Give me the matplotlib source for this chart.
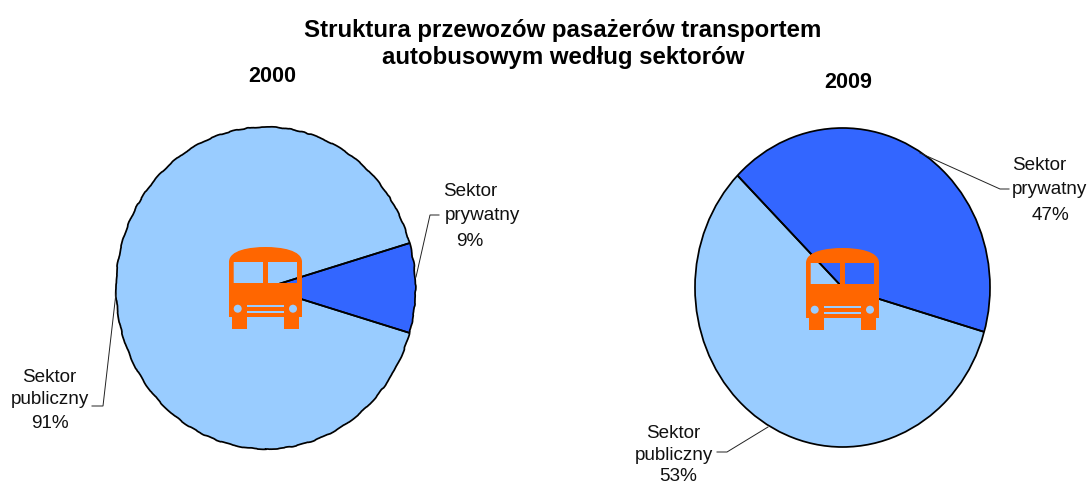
import matplotlib
matplotlib.use("Agg")
import matplotlib.pyplot as plt
import numpy as np
from matplotlib.path import Path
from matplotlib.patches import PathPatch, Circle

plt.rcParams['font.family'] = ['Liberation Sans', 'DejaVu Sans']

W, H = 1089, 483
title_lines = ["Struktura przewozów pasażerów transportem", "autobusowym według sektorów"]
years = ["2000", "2009"]
sectors = ["Sektor publiczny", "Sektor prywatny"]
# wedge sizes as drawn in the picture
drawn_2000 = [91, 9]
drawn_2009 = [57.9, 42.1]
# percentages as printed on the labels
printed_2000 = ["91%", "9%"]
printed_2009 = ["53%", "47%"]
colors = ["#99CCFF", "#3366FF"]
ORANGE = "#FF6600"

fig = plt.figure(figsize=(W / 100, H / 100), dpi=100, facecolor="white")


def pie_axes(x0, x1, y0, y1):
    return fig.add_axes([x0 / W, 1 - y1 / H, (x1 - x0) / W, (y1 - y0) / H])


def outline(ax, wedges, sketch=None):
    # radial edges stay straight, only the rim may be rough
    for w in wedges:
        w.set_edgecolor("none")
        w.set_clip_on(False)
        for th in (w.theta1, w.theta2):
            ax.plot([0, np.cos(np.radians(th))], [0, np.sin(np.radians(th))],
                    color="black", lw=1.25, solid_capstyle="butt", clip_on=False)
    rim = Circle((0, 0), 1, fill=False, ec="black", lw=1.25, clip_on=False)
    if sketch:
        rim.set_sketch_params(*sketch)
    ax.add_patch(rim)


ax1 = pie_axes(116, 415.5, 127, 449)
w1, _ = ax1.pie(drawn_2000, colors=colors, startangle=16.2, counterclock=True, radius=1)
outline(ax1, w1, sketch=(0.4, 40, 8))
ax2 = pie_axes(695, 990, 128, 447)
w2, _ = ax2.pie(drawn_2009[::-1], colors=colors[::-1], startangle=135.4, counterclock=False, radius=1)
outline(ax2, w2)
for a in (ax1, ax2):
    a.set_aspect("auto")
    a.set_xlim(-1, 1)
    a.set_ylim(-1, 1)
    a.axis("off")

ov = fig.add_axes([0, 0, 1, 1], zorder=5)
ov.set_xlim(0, W)
ov.set_ylim(H, 0)
ov.axis("off")
ov.patch.set_alpha(0)


def rect(x0, y0, x1, y1, hole=False):
    pts = [(x0, y0), (x1, y0), (x1, y1), (x0, y1), (x0, y0)]
    if hole:
        pts = pts[::-1]
    return pts, [Path.MOVETO, Path.LINETO, Path.LINETO, Path.LINETO, Path.CLOSEPOLY]


def bus(dx, dy):
    verts, codes = [], []

    def add(p):
        verts.extend((x + dx, y + dy) for x, y in p[0])
        codes.extend(p[1])

    # body with rounded roof
    add(([(229, 317), (229, 262), (229, 250), (250, 247), (265.5, 247), (281, 247), (302, 250),
          (302, 262), (302, 317), (229, 317)],
         [Path.MOVETO, Path.LINETO, Path.CURVE4, Path.CURVE4, Path.CURVE4, Path.CURVE4, Path.CURVE4,
          Path.CURVE4, Path.LINETO, Path.CLOSEPOLY]))
    # windows wind opposite to the body so the pie shows through
    add(rect(233.7, 262, 263, 283, hole=True))
    add(rect(268, 262, 297, 283, hole=True))
    ov.add_patch(PathPatch(Path(verts, codes), fc=ORANGE, ec="none", lw=0))
    for x0, x1 in ((232, 246.7), (284, 298.7)):
        ov.fill_between([x0 + dx, x1 + dx], 316 + dy, 328.5 + dy, color=ORANGE, lw=0)
    for cx in (237.7, 293):
        ov.add_patch(plt.Circle((cx + dx, 308.7 + dy), 4, fc=colors[0], ec="none"))
    for y0, y1 in ((305, 307), (310.5, 312.5)):
        ov.fill_between([246.7 + dx, 284 + dx], y0 + dy, y1 + dy, color=colors[0], lw=0)


bus(0, 0)
bus(577, 1)

FS = 13.6
for txt, y in zip(title_lines, (30, 57.5)):
    ov.text(563, y, txt, ha="center", va="center", fontsize=17.3, fontweight="bold", color="black")
ov.text(272, 77, years[0], ha="center", va="center", fontsize=15.5, fontweight="bold")
ov.text(848, 83, years[1], ha="center", va="center", fontsize=15.5, fontweight="bold")


def label(name, pct, xs, ys, leader):
    first, second = name.split()
    for t, x, y in zip((first, second, pct), xs, ys):
        ov.text(x, y, t, ha="center", va="center", fontsize=FS, color="#111111")
    ov.plot(*zip(*leader), color="#222222", lw=0.7, solid_joinstyle="miter")


label(sectors[1], printed_2000[1], (470, 482.5, 470), (192, 216, 241),
      [(416, 277), (430, 215), (439, 215)])
label(sectors[1], printed_2009[1], (1039, 1049, 1050), (166, 189, 215),
      [(920, 153), (1000, 189), (1009, 189)])
label(sectors[0], printed_2000[0], (49.5, 50, 50), (377, 400, 423),
      [(116, 293), (103, 406), (92, 406)])
label(sectors[0], printed_2009[0], (673, 674, 678), (433, 456, 476.5),
      [(768, 427), (727, 452), (717, 452)])

fig.savefig("out.png", dpi=100, facecolor="white")
